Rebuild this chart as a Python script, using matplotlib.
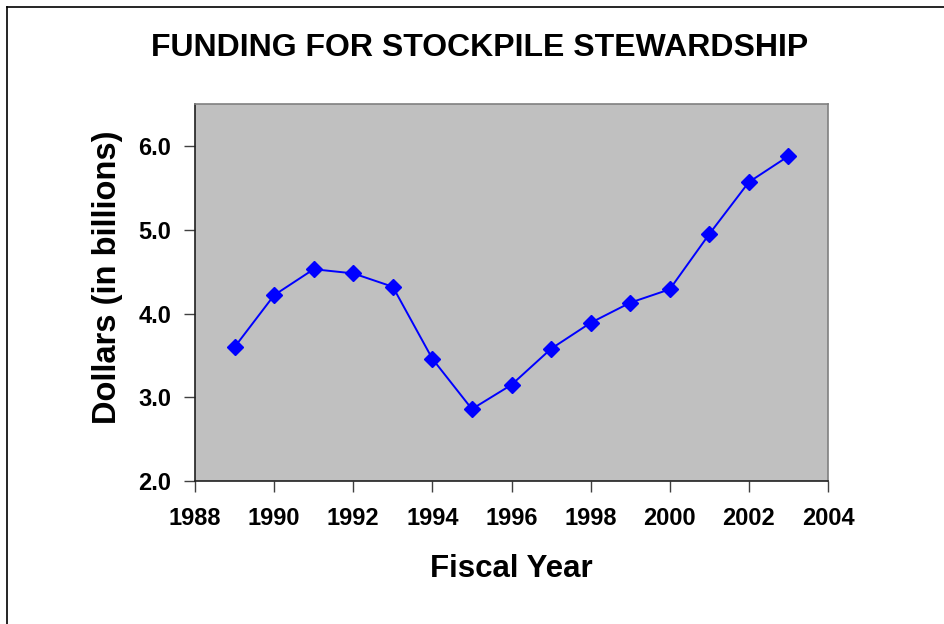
import matplotlib
matplotlib.use("Agg")
import matplotlib.pyplot as plt

years = [1989, 1990, 1991, 1992, 1993, 1994, 1995, 1996, 1997, 1998,
         1999, 2000, 2001, 2002, 2003]
funding = [3.60, 4.22, 4.53, 4.48, 4.32, 3.46, 2.86, 3.15, 3.58, 3.89,
           4.13, 4.29, 4.95, 5.57, 5.88]
xticks = list(range(1988, 2005, 2))
yticks = [2.0, 3.0, 4.0, 5.0, 6.0]

plt.rcParams['font.family'] = ['Liberation Sans', 'DejaVu Sans']
plt.rcParams['font.weight'] = 'bold'

fig = plt.figure(figsize=(9.44, 6.24), dpi=100)
ax = fig.add_axes([0.2066, 0.229, 0.6705, 0.604])

# outer frame (only left and top edges visible in the original)
fig.add_artist(plt.Line2D([7 / 944, 7 / 944], [0, 1 - 7 / 624], color='black', lw=1.2,
                          transform=fig.transFigure))
fig.add_artist(plt.Line2D([7 / 944, 1], [1 - 7 / 624, 1 - 7 / 624], color='black', lw=1.2,
                          transform=fig.transFigure))

ax.set_facecolor('#c0c0c0')
ax.plot(years, funding, color='#0000ff', lw=1.4, marker='D', markersize=8,
        markerfacecolor='#0000ff', markeredgecolor='#0000ff')

ax.set_xlim(1988, 2004)
ax.set_ylim(2.0, 6.5)
ax.set_xticks(xticks)
ax.set_yticks(yticks)
ax.set_yticklabels([f"{v:.1f}" for v in yticks])
ax.tick_params(axis='both', direction='out', length=8, width=1, color='#404040',
               labelsize=17)
ax.tick_params(axis='x', pad=11)
ax.tick_params(axis='y', pad=9)
for lbl in ax.get_xticklabels() + ax.get_yticklabels():
    lbl.set_fontweight('bold')

for side in ['top', 'right']:
    ax.spines[side].set_color('#808080')
    ax.spines[side].set_linewidth(1.2)
for side in ['left', 'bottom']:
    ax.spines[side].set_color('#202020')
    ax.spines[side].set_linewidth(1.2)

fig.text(511 / 944, 1 - 569 / 624, 'Fiscal Year', ha='center', va='center',
         fontsize=22.5, fontweight='bold')
fig.text(108 / 944, 1 - 277 / 624, 'Dollars (in billions)', ha='center', va='center',
         rotation=90, fontsize=23.5, fontweight='bold')
fig.text(480 / 944, 1 - 48 / 624, 'FUNDING FOR STOCKPILE STEWARDSHIP', ha='center',
         va='center', fontsize=23, fontweight='bold')

fig.savefig('out.png', dpi=100)
